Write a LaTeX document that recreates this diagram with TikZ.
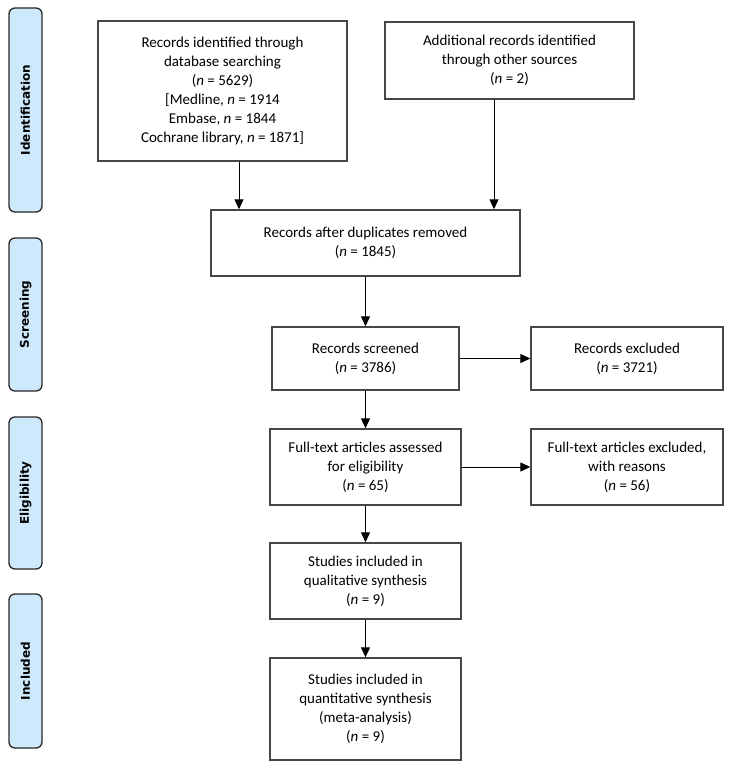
\documentclass[tikz,border=0pt]{standalone}
\usepackage{fontspec}
\setmainfont{Carlito}
\newfontfamily\labelfont{DejaVu Sans}
\usetikzlibrary{arrows.meta}
\definecolor{sidefill}{RGB}{206,233,252}
\definecolor{edge}{RGB}{40,40,40}
\definecolor{boxedge}{RGB}{70,70,70}
\begin{document}
\begin{tikzpicture}[x=1pt,y=-1pt,
  box/.style={draw=boxedge, line width=1.4pt, inner sep=0pt, align=center,
    font=\fontsize{15}{19}\selectfont},
  side/.style={draw=edge, line width=1.3pt, fill=sidefill, rounded corners=6pt,
    inner sep=0pt, rotate=90, minimum height=33pt,
    font=\labelfont\bfseries\fontsize{12}{14}\selectfont},
  arr/.style={-{Triangle[length=10pt,width=9pt]}, line width=1pt}]
\useasboundingbox (0,0) rectangle (733,765);

% side labels
\node[side, minimum width=204pt] (sid) at (25.5,110) {Identification};
\node[side, minimum width=153pt] (sscr) at (25.5,314.5) {Screening};
\node[side, minimum width=152pt] (selg) at (25.5,493) {Eligibility};
\node[side, minimum width=154pt] (sinc) at (25.5,671) {Included};

% boxes
\node[box, minimum width=249pt, minimum height=140pt] (db) at (222.5,91)
  {Records identified through\\database searching\\(\textit{n} = 5629)\\{[}Medline, \textit{n} = 1914\\Embase, \textit{n} = 1844\\Cochrane library, \textit{n} = 1871{]}};
\node[box, minimum width=249pt, minimum height=77pt] (other) at (509.5,60.5)
  {Additional records identified\\through other sources\\(\textit{n} = 2)};
\node[box, minimum width=309pt, minimum height=66pt] (dup) at (365.5,243)
  {Records after duplicates removed\\(\textit{n} = 1845)};
\node[box, minimum width=187pt, minimum height=63pt] (scr) at (365.5,358.5)
  {Records screened\\(\textit{n} = 3786)};
\node[box, minimum width=192pt, minimum height=63pt] (exc) at (627,358.5)
  {Records excluded\\(\textit{n} = 3721)};
\node[box, minimum width=191pt, minimum height=76pt] (ft) at (365.5,467)
  {Full-text articles assessed\\for eligibility\\(\textit{n} = 65)};
\node[box, minimum width=192pt, minimum height=76pt] (ftex) at (627,467)
  {Full-text articles excluded,\\with reasons\\(\textit{n} = 56)};
\node[box, minimum width=191pt, minimum height=76pt] (qual) at (365.5,581)
  {Studies included in\\qualitative synthesis\\(\textit{n} = 9)};
\node[box, minimum width=191pt, minimum height=102pt] (quant) at (365.5,709)
  {Studies included in\\quantitative synthesis\\(meta-analysis)\\(\textit{n} = 9)};

% arrow x positions
\coordinate (a1) at (239,0);
\coordinate (a2) at (494,0);

\draw[arr] (db.south -| a1) -- (dup.north -| a1);
\draw[arr] (other.south -| a2) -- (dup.north -| a2);
\draw[arr] (dup) -- (scr);
\draw[arr] (scr) -- (exc);
\draw[arr] (scr) -- (ft);
\draw[arr] (ft) -- (ftex);
\draw[arr] (ft) -- (qual);
\draw[arr] (qual) -- (quant);
\end{tikzpicture}
\end{document}
